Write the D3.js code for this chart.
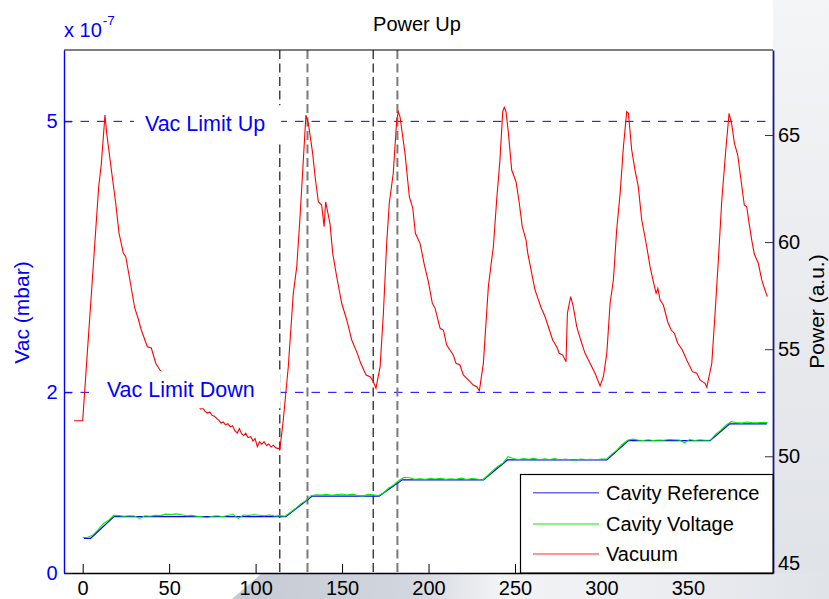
<!DOCTYPE html>
<html>
<head>
<meta charset="utf-8">
<script src="https://cdn.jsdelivr.net/npm/d3@7"></script>
<style>
  html, body { margin: 0; padding: 0; background: #ffffff; }
  svg { display: block; font-family: Arial, "Liberation Sans", Helvetica, sans-serif; }
</style>
</head>
<body>
<svg id="chart" width="829" height="599"></svg>
<script>
// ---- data -------------------------------------------------------------
// Vacuum pressure (x 1e-7 mbar) against time
const vacTime = [-5.0, 0, 9.25, 10.8, 12.9, 13.9, 17.1, 19.1, 21.0, 23.5, 24.9, 26.8, 30.1, 32.0, 33.9, 37.4, 39.7, 42.2, 44.7,
  65.9, 67.0, 68.2, 69.5, 70.8, 72.1, 73.5, 74.8, 76.2, 77.5, 78.8, 80.0, 81.3, 82.6, 84.0, 85.3, 86.7, 88.0, 89.4, 90.6, 91.8,
  93.0, 94.3, 95.6, 97.2, 98.5, 99.7, 101.0, 102.3, 103.6, 104.9, 106.3, 107.6, 109.0, 110.3, 111.5, 112.5, 114.1,
  116.0, 118.9, 121.8, 123.8, 125.7, 127.6, 129.1, 130.5, 133.0, 134.4, 136.3, 138.2, 139.6, 140.5, 143.0, 144.6, 146.9,
  149.8, 152.7, 155.6, 158.8, 160.8, 163.9, 166.2, 168.1, 169.6, 172.0, 173.9, 175.8, 177.3, 179.6, 181.6, 182.5, 183.5,
  186.4, 188.9, 190.9, 192.4, 195.1, 197.4, 199.9, 202.2, 203.8, 206.7, 208.6, 210.5, 214.3, 215.9, 218.2, 220.1, 223.0,
  225.9, 227.9, 229.4, 231.7, 234.6, 236.0, 237.5, 239.4, 241.3, 242.9, 243.8, 244.8, 246.2, 248.1, 250.6, 252.5, 254.2,
  256.4, 257.4, 259.1, 261.6, 262.9, 264.9, 267.4, 269.9, 271.8, 274.1, 275.6, 277.6, 279.5, 280.3, 282.2, 283.7, 285.7,
  288.0, 290.5, 293.4, 296.3, 299.2, 301.1, 303.1, 305.0, 306.9, 308.8, 310.8, 312.7, 314.6, 315.6, 317.5, 319.4, 321.3,
  323.3, 326.2, 328.1, 330.0, 331.6, 332.6, 333.9, 335.8, 338.3, 340.3, 342.2, 344.1, 346.8, 349.3, 352.6, 355.1, 357.0,
  359.9, 360.9, 363.8, 365.7, 367.6, 369.6, 371.9, 373.8, 375.4, 376.9, 378.8, 380.7, 382.6, 384.0, 385.4, 386.9, 388.4,
  390.7, 392.7, 394.2, 395.9];
const vacPressure = [1.686, 1.686, 4.273, 4.535, 5.070, 4.868, 4.387, 4.096, 3.764, 3.543, 3.502, 3.299, 2.934, 2.823, 2.690, 2.505, 2.491, 2.325, 2.247,
  1.834, 1.845, 1.815, 1.824, 1.790, 1.771, 1.782, 1.745, 1.735, 1.712, 1.690, 1.661, 1.673, 1.640, 1.652, 1.618, 1.630, 1.575, 1.550, 1.598, 1.545,
  1.522, 1.548, 1.500, 1.509, 1.462, 1.488, 1.398, 1.452, 1.425, 1.454, 1.412, 1.428, 1.395, 1.415, 1.388, 1.380, 1.380,
  1.694, 2.284, 3.096, 3.391, 3.944, 4.572, 5.070, 4.978, 4.646, 4.387, 4.110, 4.074, 3.834, 4.110, 3.871, 3.539, 3.280,
  2.986, 2.801, 2.579, 2.432, 2.321, 2.192, 2.173, 2.118, 2.045, 2.284, 2.875, 3.650, 4.093, 4.425, 5.015, 5.107, 5.051,
  4.646, 4.166, 4.037, 3.761, 3.650, 3.429, 3.225, 2.986, 2.930, 2.709, 2.690, 2.524, 2.413, 2.321, 2.303, 2.192, 2.137,
  2.081, 2.062, 2.018, 2.321, 3.170, 3.391, 3.612, 4.129, 4.572, 5.107, 5.156, 5.107, 4.868, 4.461, 4.332, 4.093, 3.834,
  3.686, 3.539, 3.373, 3.133, 3.059, 2.948, 2.837, 2.690, 2.579, 2.505, 2.432, 2.413, 2.339, 2.875, 3.059, 2.948, 2.727,
  2.579, 2.432, 2.321, 2.211, 2.070, 2.173, 2.432, 2.986, 3.244, 3.797, 4.203, 4.719, 5.107, 5.089, 4.683, 4.461, 4.277,
  3.908, 3.612, 3.391, 3.225, 3.096, 3.152, 3.022, 2.967, 2.782, 2.690, 2.654, 2.543, 2.469, 2.358, 2.229, 2.211, 2.137,
  2.100, 2.056, 2.321, 2.875, 3.465, 4.129, 4.683, 5.089, 4.960, 4.757, 4.627, 4.351, 4.074, 4.055, 3.871, 3.686, 3.531,
  3.429, 3.244, 3.152, 3.059];

// Cavity reference set-points (power, a.u.)
const refTime  = [0.75, 4.6, 18.1, 117.4, 132.8, 171.4, 184.8, 231.7, 245.6, 303.1, 315.6, 362.8, 374.0, 395.6];
const refPower = [46.17, 46.17, 47.18, 47.18, 48.14, 48.14, 48.90, 48.90, 49.83, 49.83, 50.73, 50.73, 51.51, 51.51];

// Measured cavity voltage (power, a.u.)
const voltTime = [0, 3, 6, 9, 12, 15, 18, 21, 24, 27, 30, 33, 36, 39, 42, 45, 48, 51, 54, 57, 60, 63, 66, 69, 72, 75, 78, 81,
  84, 87, 90, 93, 96, 99, 102, 105, 108, 111, 114, 117, 120, 123, 126, 129, 132, 135, 138, 141, 144, 147, 150, 153, 156,
  159, 162, 165, 168, 171, 174, 177, 180, 183, 186, 189, 192, 195, 198, 201, 204, 207, 210, 213, 216, 219, 222, 225, 228,
  231, 234, 237, 240, 243, 246, 249, 252, 255, 258, 261, 264, 267, 270, 273, 276, 279, 282, 285, 288, 291, 294, 297, 300,
  303, 306, 309, 312, 315, 318, 321, 324, 327, 330, 333, 336, 339, 342, 345, 348, 351, 354, 357, 360, 363, 366, 369, 372,
  375, 378, 381, 384, 387, 390, 393, 396];
const voltPower = [46.20, 46.22, 46.33, 46.58, 46.86, 47.02, 47.24, 47.23, 47.20, 47.22, 47.21, 47.10, 47.22, 47.20, 47.24,
  47.23, 47.30, 47.28, 47.31, 47.27, 47.22, 47.24, 47.20, 47.18, 47.13, 47.20, 47.22, 47.18, 47.25, 47.28, 47.10, 47.26,
  47.24, 47.27, 47.25, 47.22, 47.26, 47.21, 47.23, 47.20, 47.38, 47.56, 47.78, 47.93, 48.16, 48.20, 48.19, 48.22, 48.18,
  48.21, 48.24, 48.19, 48.23, 48.17, 48.14, 48.22, 48.20, 48.16, 48.30, 48.52, 48.67, 48.88, 49.02, 49.00, 48.93, 48.95,
  48.92, 48.96, 48.94, 48.97, 48.92, 48.95, 48.93, 48.98, 48.91, 48.96, 48.94, 48.88, 49.09, 49.32, 49.52, 49.68, 49.98,
  49.90, 49.85, 49.89, 49.86, 49.90, 49.84, 49.88, 49.85, 49.89, 49.83, 49.87, 49.84, 49.82, 49.87, 49.85, 49.86, 49.84,
  49.87, 49.88, 50.10, 50.30, 50.55, 50.75, 50.80, 50.76, 50.74, 50.77, 50.74, 50.76, 50.75, 50.78, 50.77, 50.76, 50.63,
  50.78, 50.74, 50.77, 50.75, 50.76, 51.02, 51.22, 51.45, 51.62, 51.58, 51.55, 51.60, 51.57, 51.56, 51.59, 51.57];

// Event markers (time) and vacuum interlock thresholds
const markerTimes = [114, 130, 168, 182];
const limitValues = [5, 2];
const limitLabels = ["Vac Limit Up", "Vac Limit Down"];
const limitLabelTimes = [36, 14];

// Axis ticks
const timeTicks = [0, 50, 100, 150, 200, 250, 300, 350];
const vacTicks = [0, 2, 5];
const powerTicks = [45, 50, 55, 60, 65];

const seriesNames = ["Cavity Reference", "Cavity Voltage", "Vacuum"];

// ---- layout ------------------------------------------------------------
const svg = d3.select("#chart");
const W = 829, H = 599;
const plot = { left: 64, right: 773, top: 50, bottom: 573 };

const x  = d3.scaleLinear().domain([-10.8, 399.2]).range([plot.left, plot.right]);
const yV = d3.scaleLinear().domain([0, 5.79]).range([plot.bottom, plot.top]);
const yP = d3.scaleLinear().domain([44.55, 68.97]).range([plot.bottom, plot.top]);

const COL = { ref: "#0000ff", volt: "#00ee00", vac: "#ff0000", vacAxis: "#0000ff", pAxis: "#1a1a80" };

// ---- slide-style backdrop outside the axes --------------------------------
const defs = svg.append("defs");
const gRight = defs.append("linearGradient").attr("id", "bgRight").attr("x1", 0).attr("y1", 0).attr("x2", 0).attr("y2", 1);
gRight.append("stop").attr("offset", 0).attr("stop-color", "#f4f5f7");
gRight.append("stop").attr("offset", 0.5).attr("stop-color", "#e9ebee");
gRight.append("stop").attr("offset", 1).attr("stop-color", "#dfe2e7");
const gBottom = defs.append("linearGradient").attr("id", "bgBottom").attr("gradientUnits", "userSpaceOnUse")
  .attr("x1", 230).attr("y1", 0).attr("x2", 829).attr("y2", 0);
gBottom.append("stop").attr("offset", 0).attr("stop-color", "#c4c9d3");
gBottom.append("stop").attr("offset", 0.3).attr("stop-color", "#d2d6de");
gBottom.append("stop").attr("offset", 0.45).attr("stop-color", "#f2f3f5");
gBottom.append("stop").attr("offset", 0.7).attr("stop-color", "#eceef1");
gBottom.append("stop").attr("offset", 1).attr("stop-color", "#e0e3e8");

svg.append("rect").attr("width", W).attr("height", H).attr("fill", "#ffffff");
svg.append("rect").attr("x", plot.right).attr("y", 0).attr("width", W - plot.right).attr("height", H).attr("fill", "url(#bgRight)");
svg.append("path").attr("d", `M232,${H}L262,${plot.bottom}L${W},${plot.bottom}L${W},${H}Z`).attr("fill", "url(#bgBottom)");

// plot area
svg.append("rect").attr("x", plot.left).attr("y", plot.top)
  .attr("width", plot.right - plot.left).attr("height", plot.bottom - plot.top).attr("fill", "#ffffff");

defs.append("clipPath").attr("id", "plotClip").append("rect")
  .attr("x", plot.left).attr("y", plot.top).attr("width", plot.right - plot.left).attr("height", plot.bottom - plot.top);
const g = svg.append("g").attr("clip-path", "url(#plotClip)");

// threshold lines
limitValues.forEach(v => {
  g.append("line").attr("x1", plot.left).attr("x2", plot.right).attr("y1", yV(v)).attr("y2", yV(v))
    .attr("stroke", COL.vacAxis).attr("stroke-width", 1).attr("stroke-dasharray", "8.5,8");
});

// event markers
markerTimes.forEach((t, i) => {
  g.append("line").attr("x1", x(t)).attr("x2", x(t)).attr("y1", plot.top).attr("y2", plot.bottom)
    .attr("stroke", i % 2 ? "#7a7a7a" : "#000000")
    .attr("stroke-width", i % 2 ? 2 : 1.1)
    .attr("stroke-dasharray", "9,4.5");
});

// series
const refLine = d3.line().x((d, i) => x(refTime[i])).y(d => yP(d));
g.append("path").datum(refPower).attr("d", refLine).attr("fill", "none")
  .attr("stroke", COL.ref).attr("stroke-width", 1.2);

const voltLine = d3.line().x((d, i) => x(voltTime[i])).y(d => yP(d));
g.append("path").datum(voltPower).attr("d", voltLine).attr("fill", "none")
  .attr("stroke", COL.volt).attr("stroke-width", 1.1);

const vacLine = d3.line().x((d, i) => x(vacTime[i])).y(d => yV(d));
g.append("path").datum(vacPressure).attr("d", vacLine).attr("fill", "none")
  .attr("stroke", COL.vac).attr("stroke-width", 1.1);

// threshold labels on white boxes
const labelBox = [{ padL: 11, padR: 16, dy: 9.4 }, { padL: 11, padR: 26, dy: 4.4 }];
limitLabels.forEach((txt, i) => {
  const lg = svg.append("g");
  const bx = lg.append("rect").attr("fill", "#ffffff");
  const t = lg.append("text").attr("x", x(limitLabelTimes[i])).attr("y", yV(limitValues[i]) + labelBox[i].dy)
    .attr("fill", COL.vacAxis).attr("font-size", 21.5).text(txt);
  const bb = t.node().getBBox();
  const base = yV(limitValues[i]) + labelBox[i].dy;
  bx.attr("x", bb.x - labelBox[i].padL).attr("y", base - 25.5)
    .attr("width", bb.width + labelBox[i].padL + labelBox[i].padR).attr("height", 37);
});

// ---- axes --------------------------------------------------------------
const fs = 20;
const axX = svg.append("g").attr("transform", `translate(0,${plot.bottom})`)
  .call(d3.axisBottom(x).tickValues(timeTicks).tickFormat(d3.format("d")).tickSizeInner(-9).tickSizeOuter(0).tickPadding(7.3));
axX.select(".domain").attr("stroke", "#000").attr("stroke-width", 1.6);
axX.selectAll(".tick line").attr("stroke", "#000");
axX.selectAll("text").attr("font-size", fs).attr("fill", "#000").attr("font-family", null);

const axL = svg.append("g").attr("transform", `translate(${plot.left},0)`)
  .call(d3.axisLeft(yV).tickValues(vacTicks).tickFormat(d3.format("d")).tickSizeInner(-8).tickSizeOuter(0).tickPadding(6.5));
axL.select(".domain").attr("stroke", COL.vacAxis).attr("stroke-width", 1.4);
axL.selectAll(".tick line").attr("stroke", COL.vacAxis);
axL.selectAll("text").attr("font-size", fs).attr("fill", COL.vacAxis).attr("font-family", null);

const axR = svg.append("g").attr("transform", `translate(${plot.right},0)`)
  .call(d3.axisRight(yP).tickValues(powerTicks).tickFormat(d3.format("d")).tickSizeInner(-8).tickSizeOuter(0).tickPadding(5));
axR.select(".domain").attr("stroke", COL.pAxis).attr("stroke-width", 1.8);
axR.selectAll(".tick line").attr("stroke", "#333");
axR.selectAll("text").attr("font-size", fs).attr("fill", "#000").attr("font-family", null);

// top frame
svg.append("line").attr("x1", plot.left).attr("x2", plot.right).attr("y1", plot.top).attr("y2", plot.top)
  .attr("stroke", "#000").attr("stroke-width", 1.2);

// ---- titles --------------------------------------------------------------
svg.append("text").attr("x", 417).attr("y", 31).attr("text-anchor", "middle")
  .attr("font-size", 20).attr("fill", "#000").text("Power Up");

const ex = svg.append("text").attr("x", plot.left).attr("y", 37.3).attr("font-size", 20).attr("fill", COL.vacAxis);
ex.append("tspan").text("x 10");
ex.append("tspan").attr("dy", -12).attr("dx", 1).attr("font-size", 13.5).text("-7");

svg.append("text").attr("transform", "translate(29,312.5) rotate(-90)").attr("text-anchor", "middle")
  .attr("font-size", 21).attr("fill", COL.vacAxis).text("Vac (mbar)");
svg.append("text").attr("transform", "translate(823.5,311.5) rotate(-90)").attr("text-anchor", "middle")
  .attr("font-size", 21).attr("fill", "#000").text("Power (a.u.)");

// ---- legend --------------------------------------------------------------
const leg = svg.append("g");
leg.append("rect").attr("x", 520.5).attr("y", 474.5).attr("width", 252.5).attr("height", 98.5)
  .attr("fill", "#ffffff").attr("stroke", "#000").attr("stroke-width", 1.2);
const legCols = ["#6b6bff", "#5cf05c", "#ff7070"];
const legRows = [492.7, 524, 554];
seriesNames.forEach((name, i) => {
  leg.append("line").attr("x1", 533).attr("x2", 599).attr("y1", legRows[i]).attr("y2", legRows[i])
    .attr("stroke", legCols[i]).attr("stroke-width", 1.6);
  leg.append("text").attr("x", 606).attr("y", legRows[i] + 7).attr("font-size", 20).attr("fill", "#000").text(name);
});
</script>
</body>
</html>
